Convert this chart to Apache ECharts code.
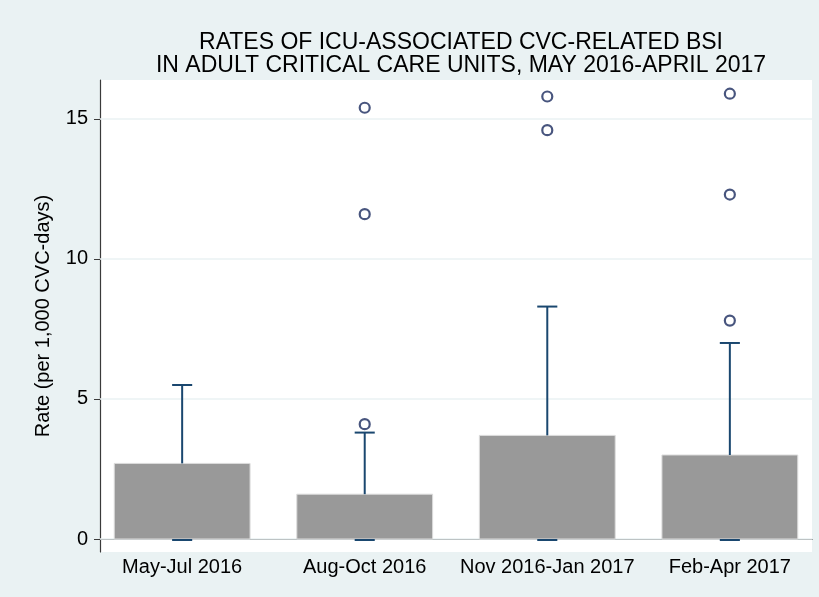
<!DOCTYPE html>
<html>
<head>
<meta charset="utf-8">
<script src="https://cdn.jsdelivr.net/npm/echarts@6/dist/echarts.min.js"></script>
<style>
html,body{margin:0;padding:0;background:#EAF2F3;}
#chart{width:819px;height:597px;}
</style>
</head>
<body>
<div id="chart"></div>
<script>
// data
var categories = ['May-Jul 2016', 'Aug-Oct 2016', 'Nov 2016-Jan 2017', 'Feb-Apr 2017'];
var lowerAdj = [0, 0, 0, 0];
var q1 = [0, 0, 0, 0];
var median = [0, 0, 0, 0];
var q3 = [2.7, 1.6, 3.7, 3.0];
var upperAdj = [5.5, 3.8, 8.3, 7.0];
// [category index, value]
var outliers = [[1, 4.1], [1, 11.6], [1, 15.4], [2, 14.6], [2, 15.8], [3, 7.8], [3, 12.3], [3, 15.9]];
var yTicks = [0, 5, 10, 15];

var boxData = [];
for (var i = 0; i < categories.length; i++) {
	boxData.push([i + 1, lowerAdj[i], q1[i], median[i], q3[i], upperAdj[i]]);
}
var outlierData = outliers.map(function (o) { return [o[0] + 1, o[1]]; });

var navy = '#1a476f';
var boxHalf = 0.372;
var capHalf = 0.055;

function renderBox(params, api) {
	var x = api.value(0);
	var lo = api.value(1), b1 = api.value(2), b3 = api.value(4), hi = api.value(5);
	var tl = api.coord([x - boxHalf, b3]);
	var br = api.coord([x + boxHalf, b1]);
	var c3 = api.coord([x, b3]);
	var cHi = api.coord([x, hi]);
	var c1 = api.coord([x, b1]);
	var cLo = api.coord([x, lo]);
	var capW = api.size([capHalf, 0])[0];
	var children = [
		{type: 'rect', shape: {x: tl[0], y: tl[1], width: br[0] - tl[0], height: br[1] - tl[1]},
			style: {fill: '#999999', stroke: '#dcdcdc', lineWidth: 1}},
		{type: 'line', shape: {x1: c3[0], y1: c3[1], x2: cHi[0], y2: cHi[1]}, style: {stroke: navy, lineWidth: 2}},
		{type: 'line', shape: {x1: cHi[0] - capW, y1: cHi[1], x2: cHi[0] + capW, y2: cHi[1]}, style: {stroke: navy, lineWidth: 2}},
		{type: 'line', shape: {x1: c1[0], y1: c1[1], x2: cLo[0], y2: cLo[1]}, style: {stroke: navy, lineWidth: 2}},
		{type: 'line', shape: {x1: cLo[0] - capW, y1: cLo[1] + 1, x2: cLo[0] + capW, y2: cLo[1] + 1}, style: {stroke: navy, lineWidth: 2}}
	];
	return {type: 'group', children: children};
}

var chart = echarts.init(document.getElementById('chart'));
chart.setOption({
	backgroundColor: '#EAF2F3',
	animation: false,
	textStyle: {fontFamily: 'Liberation Sans, Arial, sans-serif'},
	title: {
		text: 'RATES OF ICU-ASSOCIATED CVC-RELATED BSI\nIN ADULT CRITICAL CARE UNITS, MAY 2016-APRIL 2017',
		left: 456,
		top: 26,
		textAlign: 'center',
		textStyle: {fontSize: 23, fontWeight: 'normal', color: '#000', lineHeight: 23, fontFamily: 'Liberation Sans'}
	},
	grid: {left: 100, right: 7, top: 80, bottom: 45, show: true, backgroundColor: '#ffffff', borderWidth: 0},
	xAxis: {
		type: 'value',
		min: 0.55,
		max: 4.45,
		axisLine: {show: true, lineStyle: {color: '#3a3a3a', width: 1.2}},
		axisTick: {show: false},
		splitLine: {show: false},
		axisLabel: {
			customValues: [1, 2, 3, 4],
			formatter: function (v) { return categories[Math.round(v) - 1] || ''; },
			fontSize: 20, color: '#000', margin: 5
		}
	},
	yAxis: {
		type: 'value',
		min: -0.464,
		max: 16.39,
		name: 'Rate (per 1,000 CVC-days)',
		nameLocation: 'middle',
		nameRotate: 90,
		nameGap: 47,
		nameTextStyle: {fontSize: 20, color: '#000'},
		axisLine: {show: true, lineStyle: {color: '#3a3a3a', width: 1.2}},
		axisTick: {show: true, customValues: yTicks, length: 6, lineStyle: {color: '#3a3a3a'}},
		splitLine: {show: false},
		axisLabel: {customValues: yTicks, fontSize: 20, color: '#000', margin: 12}
	},
	series: [
		{
			type: 'custom',
			renderItem: renderBox,
			data: boxData,
			z: 3,
			markLine: {
				silent: true,
				symbol: 'none',
				label: {show: false},
				lineStyle: {color: '#EAF2F3', width: 1.5, type: 'solid'},
				data: yTicks.map(function (t) { return {yAxis: t}; }),
				z: 1
			}
		},
		{
			type: 'scatter',
			data: outlierData,
			symbol: 'circle',
			symbolSize: 10,
			itemStyle: {color: 'rgba(0,0,0,0)', borderColor: '#1a2a5e', borderWidth: 2.2},
			z: 4
		}
	]
});
</script>
</body>
</html>
